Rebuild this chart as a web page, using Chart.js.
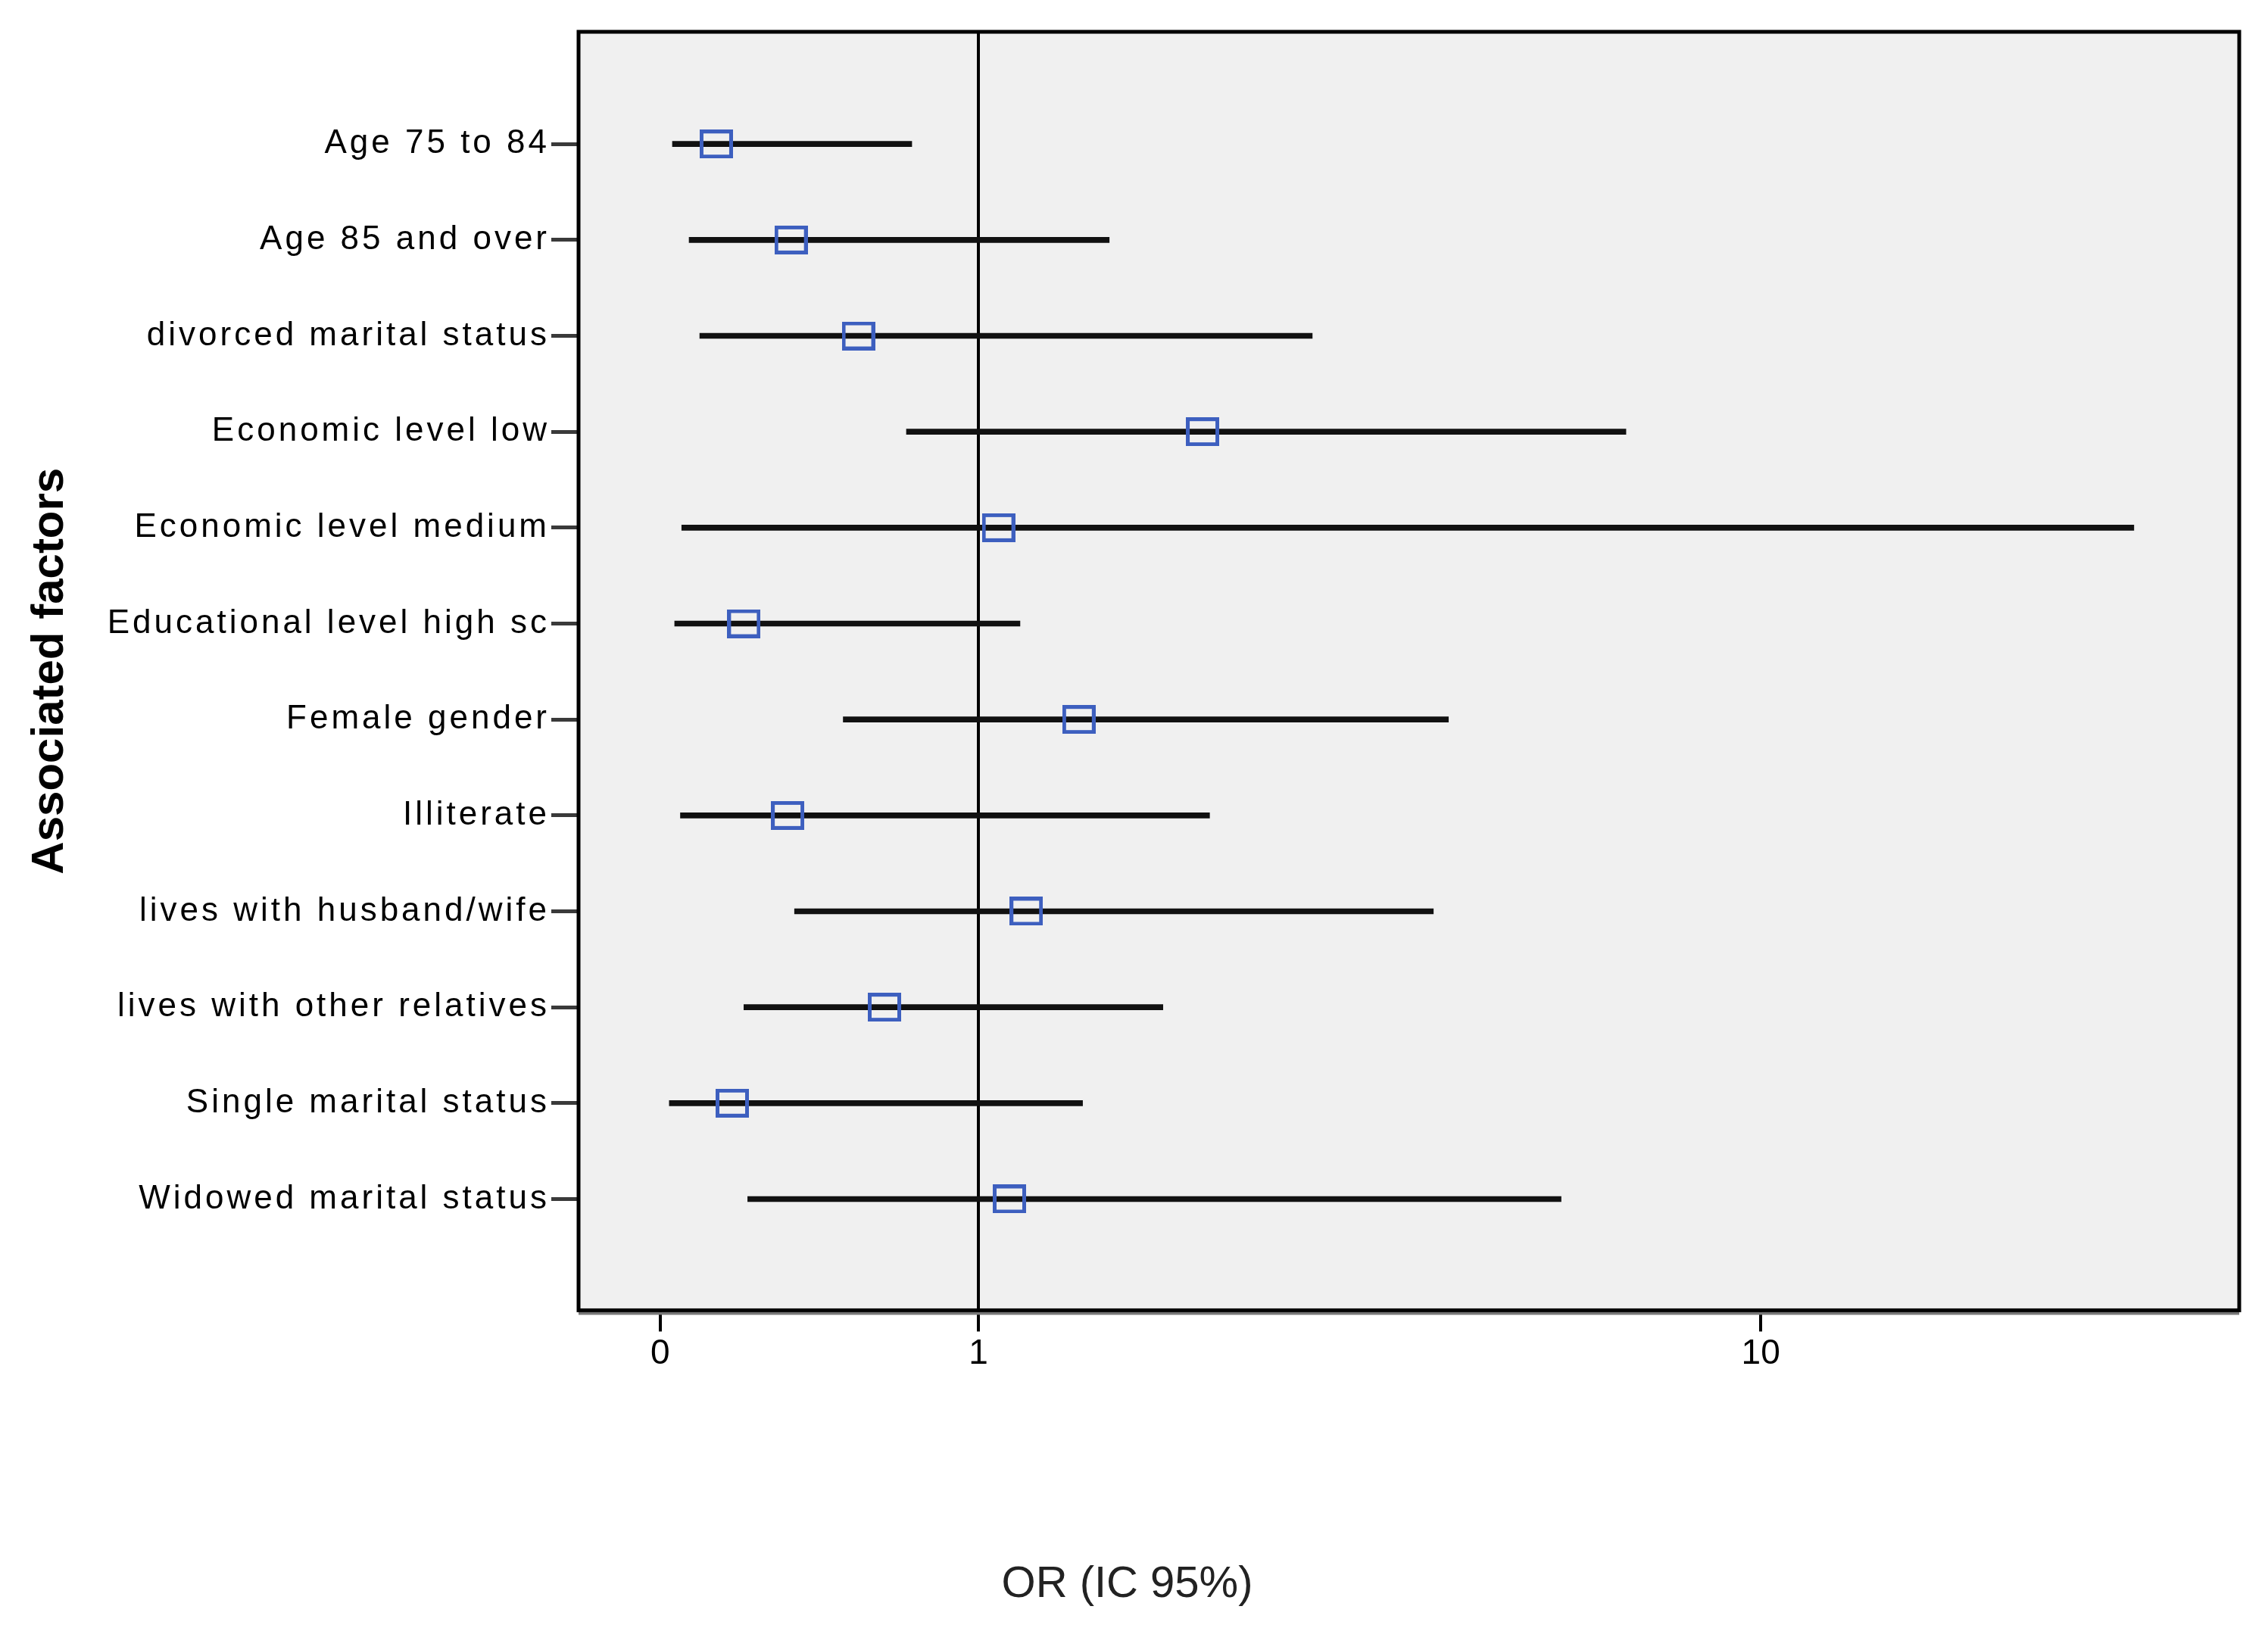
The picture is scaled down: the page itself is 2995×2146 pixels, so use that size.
<!DOCTYPE html>
<html lang="en">
<head>
  <meta charset="UTF-8" />
  <title>Associated factors - OR (IC 95%)</title>
  <script src="https://cdn.jsdelivr.net/npm/chart.js"></script>
  <style>
    html, body {
      margin: 0;
      padding: 0;
      background: #ffffff;
    }
    #wrap {
      width: 2995px;
      height: 2146px;
    }
  </style>
</head>
<body>
  <div id="wrap">
    <canvas id="forest" width="2995" height="2146"></canvas>
  </div>

  <script>
    // Data
    const factors = [
      'Age 75 to 84',
      'Age 85 and over',
      'divorced marital status',
      'Economic level low',
      'Economic level medium',
      'Educational level high sc',
      'Female gender',
      'Illiterate',
      'lives with husband/wife',
      'lives with other relatives',
      'Single marital status',
      'Widowed marital status'
    ];
    const oddsRatio = [0.13, 0.33, 0.54, 2.26, 1.09, 0.20, 1.49, 0.32, 1.22, 0.63, 0.17, 1.14];
    const ciLower   = [0.027, 0.065, 0.09, 0.71, 0.048, 0.032, 0.49, 0.045, 0.34, 0.20, 0.02, 0.21];
    const ciUpper   = [0.73, 1.66, 3.14, 7.20, 23.8, 1.19, 4.57, 2.31, 4.39, 1.99, 1.51, 6.12];
    const xTicks = [0, 1, 10];

    const FONT = "'Liberation Sans', Arial, Helvetica, sans-serif";

    // x axis of the SPSS plot is log10(x + 1)
    class SafeLogScale extends Chart.LinearScale {
      static id = 'safelog';
      static defaults = {};
      configure() {
        super.configure();
        this._lo = Math.log10(this.min + 1);
        this._hi = Math.log10(this.max + 1);
      }
      getPixelForValue(value) {
        return this.getPixelForDecimal((Math.log10(value + 1) - this._lo) / (this._hi - this._lo));
      }
      getValueForPixel(pixel) {
        return Math.pow(10, this._lo + this.getDecimalForPixel(pixel) * (this._hi - this._lo)) - 1;
      }
    }

    // y labels in the original are drawn a bit wider
    class SpacedLinearScale extends Chart.LinearScale {
      static id = 'spacedlinear';
      static defaults = {};
      drawLabels(chartArea) {
        const ctx = this.ctx;
        ctx.save();
        ctx.letterSpacing = '4px';
        super.drawLabels(chartArea);
        ctx.restore();
      }
    }

    Chart.register(SafeLogScale, SpacedLinearScale);

    // open blue square marker
    function makeMarker() {
      const c = document.createElement('canvas');
      c.width = 44;
      c.height = 38;
      const g = c.getContext('2d');
      g.strokeStyle = '#3d5fbf';
      g.lineWidth = 5;
      g.strokeRect(2.5, 2.5, 39, 33);
      return c;
    }

    const plotFrame = {
      id: 'plotFrame',
      beforeDraw(chart) {
        const { ctx, chartArea: a } = chart;
        ctx.save();
        ctx.fillStyle = '#f0f0f0';
        ctx.fillRect(a.left, a.top, a.right - a.left, a.bottom - a.top);
        ctx.restore();
      },
      afterDraw(chart) {
        const { ctx, chartArea: a } = chart;
        ctx.save();
        ctx.fillStyle = '#777';
        ctx.fillRect(a.left, a.bottom + 2, a.right - a.left, 4);
        ctx.strokeStyle = '#000';
        ctx.lineWidth = 5;
        ctx.strokeRect(a.left, a.top, a.right - a.left, a.bottom - a.top);
        ctx.restore();
      }
    };

    const pointData = oddsRatio.map((v, i) => ({ x: v, y: i }));
    const ciData = factors.map((f, i) => ({ x: [ciLower[i], ciUpper[i]], y: i }));

    new Chart(document.getElementById('forest'), {
      type: 'scatter',
      data: {
        datasets: [
          {
            label: 'OR',
            data: pointData,
            pointStyle: makeMarker(),
            pointRadius: 20,
            pointHoverRadius: 20
          },
          {
            type: 'bar',
            label: 'IC 95%',
            indexAxis: 'y',
            data: ciData,
            backgroundColor: '#111',
            borderWidth: 0,
            barThickness: 7
          }
        ]
      },
      options: {
        responsive: false,
        devicePixelRatio: 1,
        animation: false,
        layout: {
          padding: { left: 20, right: 38, top: 42, bottom: 0 }
        },
        plugins: {
          legend: { display: false },
          tooltip: { enabled: false },
          title: {
            display: true,
            text: 'OR (IC 95%)',
            position: 'bottom',
            color: '#222',
            font: { family: FONT, size: 58, weight: 'normal' },
            padding: { top: 10, bottom: 18 }
          }
        },
        scales: {
          x: {
            type: 'safelog',
            min: -0.163,
            max: 30.2,
            bounds: 'data',
            offset: false,
            afterBuildTicks: (scale) => {
              scale.ticks = xTicks.map(v => ({ value: v }));
            },
            afterFit: (scale) => { scale.height = 318; },
            ticks: {
              autoSkip: false,
              maxRotation: 0,
              padding: 2,
              color: '#000',
              font: { family: FONT, size: 46 },
              callback: (v) => String(v)
            },
            grid: {
              offset: false,
              drawOnChartArea: true,
              color: (ctx) => (ctx.tick && ctx.tick.value === 1 ? '#000' : 'transparent'),
              lineWidth: 4,
              tickColor: '#000',
              tickWidth: 4,
              tickLength: 28
            },
            border: { display: false }
          },
          y: {
            type: 'spacedlinear',
            reverse: true,
            min: -1.17,
            max: 12.16,
            bounds: 'data',
            offset: false,
            afterBuildTicks: (scale) => {
              scale.ticks = factors.map((f, i) => ({ value: i }));
            },
            afterFit: (scale) => { scale.width = 744; },
            ticks: {
              autoSkip: false,
              padding: 2,
              color: '#000',
              font: { family: FONT, size: 44 },
              callback: (v) => factors[v]
            },
            grid: {
              offset: false,
              drawOnChartArea: false,
              tickColor: '#3a3a3a',
              tickWidth: 5,
              tickLength: 36
            },
            border: { display: false },
            title: {
              display: true,
              text: 'Associated factors',
              color: '#000',
              font: { family: FONT, size: 60, weight: 'bold' },
              padding: { top: 10, bottom: 0 }
            }
          }
        }
      },
      plugins: [plotFrame]
    });
  </script>
</body>
</html>
